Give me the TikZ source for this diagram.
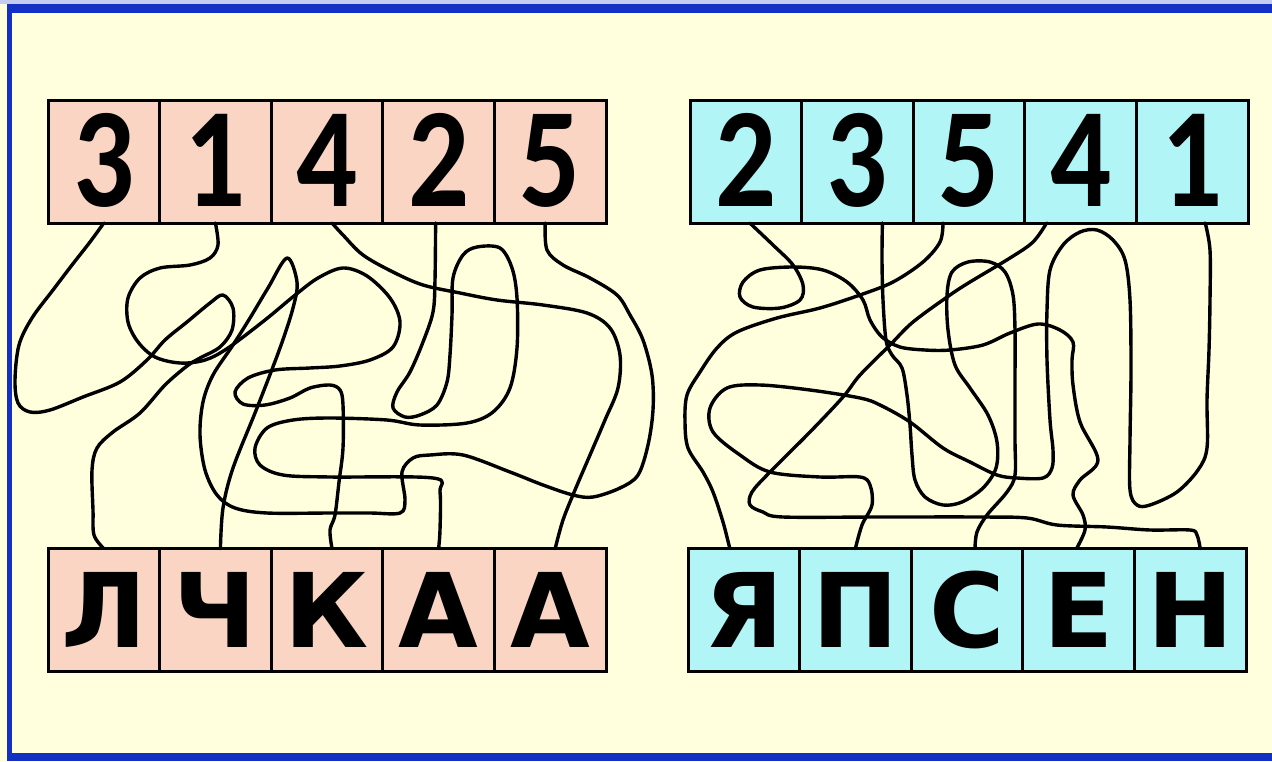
\documentclass[tikz,border=0pt]{standalone}
\usepackage{fontspec}
\setmainfont{DejaVu Sans}
\newfontfamily\digitfont{Carlito}[FakeStretch=0.85]
\definecolor{paper}{RGB}{255,255,221}
\definecolor{salmon}{RGB}{250,213,196}
\definecolor{aqua}{RGB}{178,245,246}
\definecolor{frameblue}{RGB}{18,48,196}

\begin{document}
\begin{tikzpicture}[x=1pt,y=-1pt,
  cell/.style={draw=black,line width=3pt,minimum width=111.6pt,minimum height=123pt,inner sep=0pt,outer sep=0pt,text depth=0pt},
  numcell/.style={cell,font=\digitfont\bfseries\fontsize{142}{142}\selectfont,text height=90pt},
  lettercell/.style={cell,font=\bfseries\fontsize{103}{103}\selectfont,text height=75pt},
  wire/.style={line width=3.4pt,line join=round,line cap=round}]
\useasboundingbox (0,0) rectangle (1272,761);
\fill[paper] (0,0) rectangle (1272,761);
\fill[frameblue!25] (0,0) rectangle (1272,4);
\fill[frameblue] (7,4) rectangle (1272,12.5);
\fill[frameblue] (7,4) rectangle (12,761);
\fill[frameblue] (7,753) rectangle (1272,761);

\foreach \d [count=\i] in {3,1,4,2,5}
  \node[numcell,fill=salmon] (tl\i) at ({48+(\i-0.5)*111.6},161.5) {\d};
\foreach \d [count=\i] in {2,3,5,4,1}
  \node[numcell,fill=aqua] (tr\i) at ({690+(\i-0.5)*111.6},161.5) {\d};
\foreach \c [count=\i] in {Л,Ч,К,А,А}
  \node[lettercell,fill=salmon] (bl\i) at ({48+(\i-0.5)*111.6},610) {\c};
\foreach \c [count=\i] in {Я,П,С,Е,Н}
  \node[lettercell,fill=aqua] (br\i) at ({688+(\i-0.5)*111.6},610) {\c};

% left tangle
\draw[wire] plot[smooth,tension=0.55] coordinates {(tl1.south) (90,242) (72,265) (53,290) (32,318) (19,345) (15,380) (18,403) (30,412) (50,410) (83,397) (120,382) (147,360) (165,340) (187,322) (210,303) (223,295) (233,308) (232,330) (220,347) (200,358) (187,366) (165,385) (140,413) (113,432) (97,448) (92,470) (93,510) (94,535) (bl1.north)};
\draw[wire] plot[smooth,tension=0.55] coordinates {(tl2.south) (218,245) (210,258) (190,265) (160,268) (140,278) (128,298) (128,322) (138,342) (155,357) (180,363) (205,360) (228,348) (265,320) (294,296) (318,278) (343,268) (367,276) (390,298) (400,322) (393,347) (370,360) (340,366) (310,368) (275,370) (248,378) (235,392) (243,404) (265,405) (290,398) (310,388) (330,385) (340,390) (343,405) (343,448) (339,482) (335,515) (330,530) ([xshift=5pt]bl3.north)};
\draw[wire] plot[smooth,tension=0.55] coordinates {([xshift=5pt]tl3.south) (343,235) (363,255) (393,272) (423,285) (460,293) (497,300) (543,305) (587,313) (610,328) (620,355) (618,388) (605,420) (590,455) (575,490) (563,520) ([xshift=5pt]bl5.north)};
\draw[wire] plot[smooth,tension=0.55] coordinates {([xshift=-3pt]tl4.south) (435,280) (433,312) (423,342) (410,372) (397,392) (393,408) (405,417) (420,415) (437,405) (447,382) (450,355) (452,315) (453,278) (463,255) (477,247) (500,248) (512,268) (517,298) (517,348) (510,388) (493,412) (467,423) (420,425) (387,420) (330,418) (293,420) (267,428) (255,448) (260,465) (283,475) (330,477) (433,478) (440,492) (440,530) (bl4.north)};
\draw[wire] plot[smooth,tension=0.55] coordinates {([xshift=-5pt]tl5.south) (547,250) (563,265) (590,278) (617,295) (630,315) (643,340) (652,375) (653,410) (648,445) (638,475) (620,488) (593,497) (573,495) (543,485) (510,472) (463,455) (430,455) (413,458) (402,472) (405,500) (400,513) (370,513) (330,513) (267,513) (235,508) (217,495) (205,470) (200,435) (203,402) (213,375) (233,345) (250,318) (268,288) (287,258) (297,282) (293,308) (280,348) (257,408) (233,468) (223,508) ([xshift=5pt]bl2.north)};

% right tangle
\draw[wire] plot[smooth,tension=0.55] coordinates {([xshift=4pt]tr1.south) (773,245) (793,265) (803,285) (800,300) (780,308) (753,307) (740,297) (743,282) (760,270) (793,267) (823,270) (847,282) (863,300) (870,320) (882,337) (900,347) (925,350) (950,350) (983,345) (1010,333) (1038,324) (1060,330) (1073,342) (1072,360) (1073,385) (1080,422) (1098,460) (1080,480) (1073,495) (1083,515) (1085,530) ([xshift=-2pt]br4.north)};
\draw[wire] plot[smooth,tension=0.55] coordinates {([xshift=25pt]tr2.south) (882,260) (883,300) (886,340) (892,355) (902,368) (907,395) (910,425) (912,455) (915,480) (925,497) (943,505) (962,502) (983,488) (996,468) (997,442) (988,415) (970,388) (955,365) (948,330) (947,295) (952,272) (968,262) (990,262) (1005,272) (1013,295) (1015,330) (1015,380) (1015,440) (1015,475) (1007,492) (987,515) (977,532) ([xshift=8pt]br3.north)};
\draw[wire] plot[smooth,tension=0.55] coordinates {([xshift=-26pt]tr3.south) (940,242) (923,262) (893,282) (860,295) (820,308) (777,318) (737,332) (717,348) (700,372) (687,395) (685,422) (688,448) (703,472) (713,492) (723,522) ([xshift=-14pt]br1.north)};
\draw[wire] plot[smooth,tension=0.55] coordinates {([xshift=-34pt]tr4.south) (1033,242) (1010,258) (970,282) (950,295) (913,322) (890,345) (860,375) (843,397) (810,432) (770,472) (752,492) (750,505) (763,512) (783,517) (880,517) (980,517) (1027,518) (1057,525) (1107,527) (1150,530) (1190,530) (1197,535) ([xshift=10pt]br5.north)};
\draw[wire] plot[smooth,tension=0.55] coordinates {([xshift=13pt]tr5.south) (1210,250) (1210,300) (1209,350) (1207,400) (1207,448) (1198,470) (1177,492) (1150,505) (1137,505) (1130,490) (1130,440) (1131,370) (1130,300) (1125,260) (1113,240) (1097,230) (1080,232) (1063,245) (1050,270) (1047,310) (1047,360) (1050,420) (1053,450) (1052,468) (1043,478) (1017,478) (997,475) (970,462) (943,448) (910,422) (880,405) (860,398) (810,390) (760,385) (727,388) (710,408) (713,432) (740,455) (770,472) (820,477) (860,477) (870,485) (872,505) (862,525) (br2.north)};
\end{tikzpicture}
\end{document}
